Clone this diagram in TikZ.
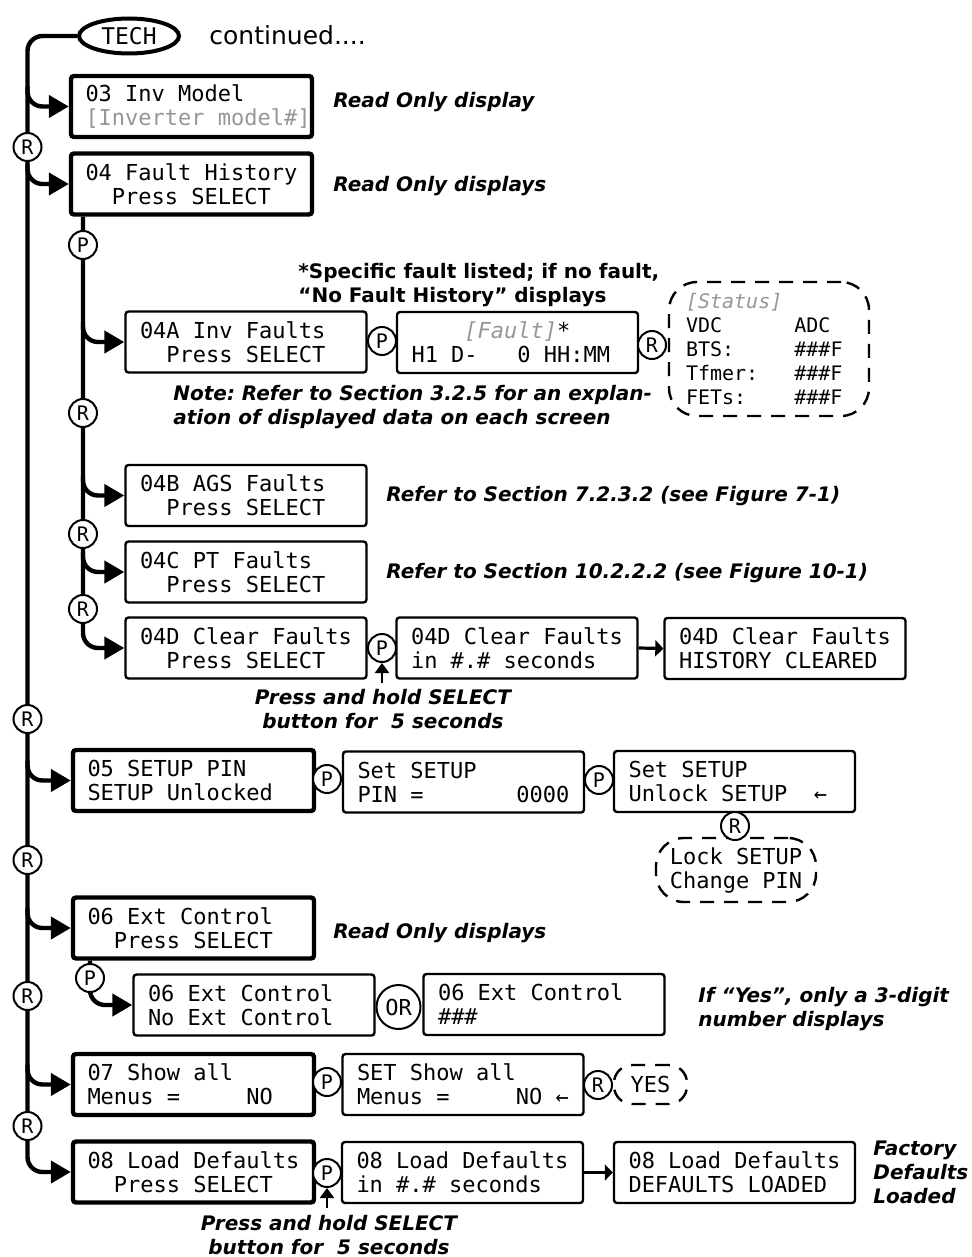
\documentclass[tikz,border=0pt]{standalone}
\usepackage{fontspec}
\setmainfont{DejaVu Sans}
\setmonofont{DejaVu Sans Mono}
\frenchspacing
\usetikzlibrary{arrows.meta,positioning,shapes.geometric}
\tikzset{
  busln/.style={-{Triangle[length=10pt,width=11pt]}, line width=2.2pt, rounded corners=7.5pt},
  stepln/.style={-{Triangle[length=4pt,width=8pt]}, line width=1.6pt},
  holdln/.style={-{Triangle[length=5pt,width=7pt]}, line width=1.1pt},
  scrbox/.style={draw, line width=1.2pt, rounded corners=1.5pt, minimum height=30.5pt,
    inner xsep=7.25pt, inner ysep=2pt, align=left,
    font=\ttfamily\fontsize{11}{12}\selectfont},
  scrthk/.style={scrbox, line width=2.2pt},
  optbox/.style={draw, line width=1.2pt, dash pattern=on 7pt off 5pt, align=left,
    font=\ttfamily\fontsize{11}{12}\selectfont},
  keyc/.style={circle, draw, fill=white, line width=1pt, minimum size=14pt, inner sep=0pt,
    font=\ttfamily\fontsize{10}{10}\selectfont},
  notetx/.style={inner sep=0pt, align=left, font=\bfseries\itshape\fontsize{10}{12}\selectfont},
}
\newcommand{\scrtxt}[2]{\makebox[106pt][l]{#1}\\\makebox[106pt][l]{#2}}
\definecolor{dimtxt}{RGB}{150,150,150}

\begin{document}
\begin{tikzpicture}[x=0.5pt, y=-0.5pt]
  \useasboundingbox (0,0) rectangle (971,1257);
  \coordinate (bus) at (27.5,0);
  \coordinate (sub) at (83,0);
  \coordinate (sub6) at (90,0);
  % menu head
  \node[ellipse, draw, line width=2pt, minimum width=50pt, minimum height=17.5pt,
    inner sep=0pt, font=\ttfamily\fontsize{11.5}{12}\selectfont] (tech) at (129,36) {TECH};
  \node[anchor=base west, inner sep=0pt, font=\fontsize{12.5}{14}\selectfont]
    (cont) at (209,45) {continued....};
  % screens
  \node[scrthk] (b03) at (191.5,106.5)
    {\scrtxt{03 Inv Model}{\textcolor{dimtxt}{[Inverter model\#]}}};
  \node[scrthk] (b04) at (191.5,184) {\scrtxt{04 Fault History}{~~Press SELECT}};
  \node[scrbox] (b04a) at (246,342) {\scrtxt{04A Inv Faults}{~~Press SELECT}};
  \node[scrbox] (bflt) at (517.5,342.5)
    {\scrtxt{~~~~\textit{\textcolor{dimtxt}{[Fault]}}*}{H1 D-~~~0 HH:MM}};
  \node[optbox, rounded corners=14pt, minimum width=100pt, minimum height=67pt,
    font=\ttfamily\fontsize{10}{12}\selectfont] (stat) at (769,349)
    {\makebox[83pt][l]{\textit{\textcolor{dimtxt}{[Status]}}}\\VDC~~~~~~ADC\\
     BTS:~~~~~\#\#\#F\\Tfmer:~~~\#\#\#F\\FETs:~~~~\#\#\#F};
  \node[scrbox] (b04b) at (246,495.5) {\scrtxt{04B AGS Faults}{~~Press SELECT}};
  \node[scrbox] (b04c) at (246,572) {\scrtxt{04C PT Faults}{~~Press SELECT}};
  \node[scrbox] (b04d) at (246,648) {\scrtxt{04D Clear Faults}{~~Press SELECT}};
  \node[scrbox] (b04d2) at (517,648) {\scrtxt{04D Clear Faults}{in \#.\# seconds}};
  \node[scrbox] (b04d3) at (785,648.5) {\scrtxt{04D Clear Faults}{HISTORY CLEARED}};
  \node[scrthk] (b05) at (193.5,780.5) {\scrtxt{05 SETUP PIN}{SETUP Unlocked}};
  \node[scrbox] (bpin) at (463.5,782) {\scrtxt{Set SETUP}{PIN =~~~~~~~0000}};
  \node[scrbox] (bunl) at (734.5,781.5) {\scrtxt{Set SETUP}{Unlock SETUP~~←}};
  \node[optbox, rounded corners=14pt, minimum width=80pt, minimum height=32pt]
    (lock) at (736,870) {Lock SETUP\\Change PIN};
  \node[scrthk] (b06) at (193.5,928) {\scrtxt{06 Ext Control}{~~Press SELECT}};
  \node[scrbox] (b06a) at (254,1005) {\scrtxt{06 Ext Control}{No Ext Control}};
  \node[scrbox] (b06b) at (544,1004.5) {\scrtxt{06 Ext Control}{\#\#\#}};
  \node[scrthk] (b07) at (193.5,1084.5) {\scrtxt{07 Show all}{Menus =~~~~~NO}};
  \node[scrbox] (bshow) at (463,1084.5) {\scrtxt{SET Show all}{Menus =~~~~~NO ←}};
  \node[optbox, rounded corners=9pt, minimum width=36.5pt, minimum height=19.5pt]
    (yes) at (650.5,1084.5) {YES};
  \node[scrthk] (b08) at (193.5,1172) {\scrtxt{08 Load Defaults}{~~Press SELECT}};
  \node[scrbox] (b08b) at (462.5,1172.5) {\scrtxt{08 Load Defaults}{in \#.\# seconds}};
  \node[scrbox] (b08c) at (734.5,1172.5) {\scrtxt{08 Load Defaults}{DEFAULTS LOADED}};
  % notes
  \node[notetx, anchor=base west] (n03) at (333,108) {Read Only display};
  \node[notetx, anchor=base west] (n04) at (333,192) {Read Only displays};
  \node[notetx, anchor=west, font=\bfseries\fontsize{10}{12}\selectfont] (nflt) at (298,285)
    {*Specific fault listed; if no fault,\\“No Fault History” displays};
  \node[notetx, anchor=west] (nsec) at (173,407)
    {Note: Refer to Section 3.2.5 for an explan-\\ation of displayed data on each screen};
  \node[notetx, anchor=base west] (n04b) at (386,501) {Refer to Section 7.2.3.2 (see Figure 7-1)};
  \node[notetx, anchor=base west] (n04c) at (386,578) {Refer to Section 10.2.2.2 (see Figure 10-1)};
  \node[notetx, align=center] (nhold1) at (383,709) {Press and hold SELECT\\button for\ \ 5 seconds};
  \node[notetx, anchor=base west] (n06) at (333,938) {Read Only displays};
  \node[notetx, anchor=west] (n06b) at (698,1009) {If “Yes”, only a 3-digit\\number displays};
  \node[notetx, align=center] (nhold2) at (329,1235) {Press and hold SELECT\\button for\ \ 5 seconds};
  \node[notetx, anchor=west] (n08) at (873,1172) {Factory\\Defaults\\Loaded};
  % main bus and branches
  \draw[busln] (tech.west) -| (b08.west -| bus) -- (b08.west);
  \foreach \b in {b03,b04,b05,b06,b07}
    \draw[busln] ([yshift=10pt]\b.west -| bus) |- (\b.west);
  % fault history bus
  \draw[busln] (b04.south -| sub) |- (b04d.west);
  \foreach \b in {b04a,b04b,b04c}
    \draw[busln] ([yshift=10pt]\b.west -| sub) |- (\b.west);
  \draw[busln] (b06.south -| sub6) |- (b06a.west);
  \draw[stepln] (b04d2.east) -- (b04d3.west);
  \draw[stepln] (b08b.east) -- (b08c.west);
  % keys
  \foreach \nm/\x/\y/\lab in {rA/27.5/147/R, pA/83/245/P, pB/382/341/P, rB/652/345/R,
      rC/83/413/R, rD/83/534/R, rE/83/609/R, pC/382/648/P, rF/27.5/719/R,
      pD/327/779/P, pE/599/780/P, rG/735/826/R, rH/27.5/860/R, pF/90/978/P,
      rI/27.5/996/R, pG/327/1082/P, rJ/598/1085/R, rK/27.5/1126/R, pH/327/1173/P}
    \node[keyc] (\nm) at (\x,\y) {\lab};
  \node[keyc, minimum size=22pt, font=\ttfamily\fontsize{11}{11}\selectfont] (or6)
    at (398.5,1007) {OR};
  \coordinate (hold1) at (382,683);
  \coordinate (hold2) at (327,1208);
  \draw[holdln] (hold1) -- (pC.south);
  \draw[holdln] (hold2) -- (pH.south);
\end{tikzpicture}
\end{document}
